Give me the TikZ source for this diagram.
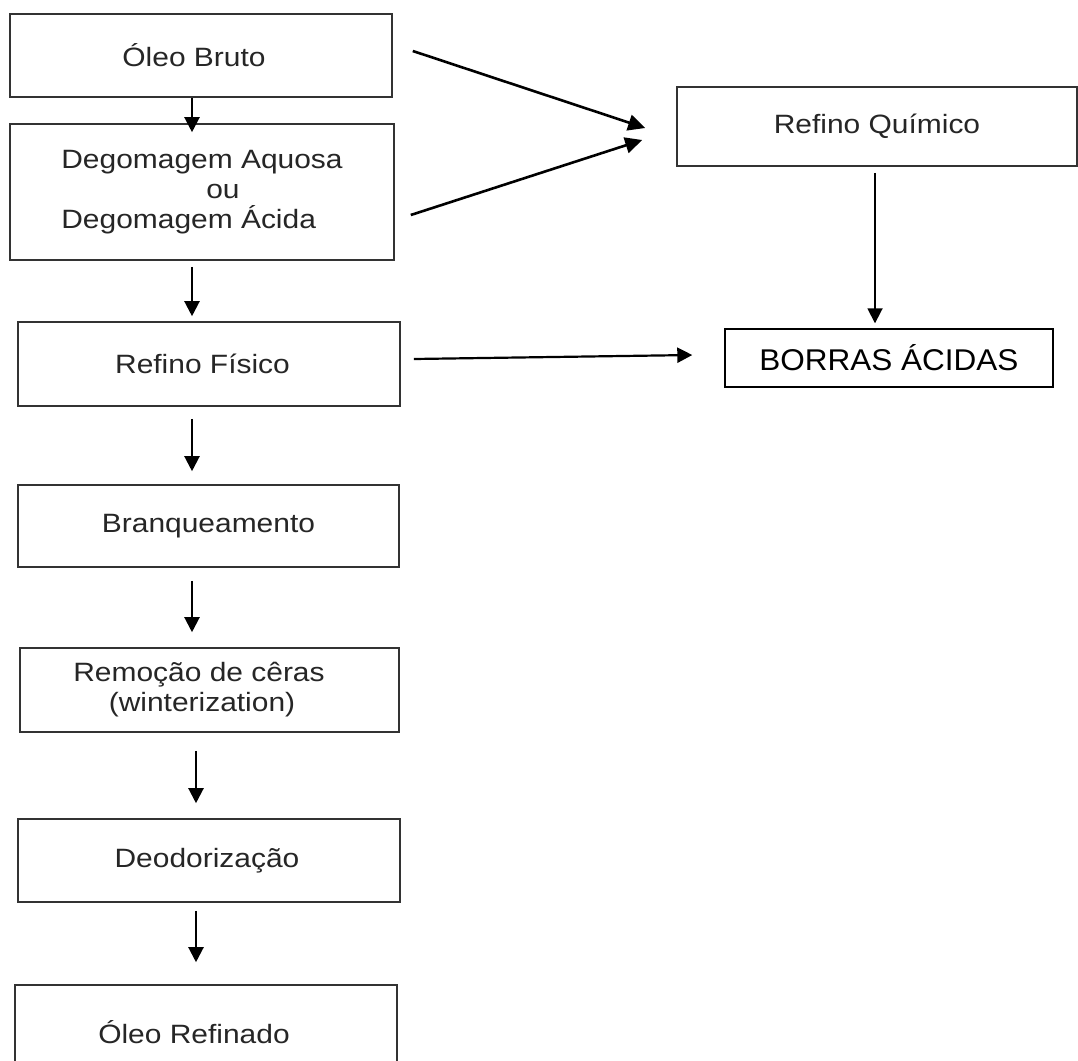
\documentclass[tikz,border=0pt]{standalone}
\usepackage{fontspec}
\setmainfont{Liberation Sans}[FakeStretch=1.13]
\newfontfamily\borrasfont{Liberation Sans}[FakeStretch=1.05]
\usetikzlibrary{arrows.meta}
\begin{document}
\begin{tikzpicture}[x=1pt,y=-1pt,
  box/.style={draw=black!80, line width=1.6pt, fill=white, inner sep=0pt,
    text=black!85, font=\fontsize{26.5}{30}\selectfont, align=center},
  arr/.style={draw=black, line width=2.2pt, -{Triangle[width=15pt,length=15pt]}},
  sarr/.style={draw=black, line width=2.6pt, -{Triangle[width=16pt,length=17pt]}}]
\useasboundingbox (0,0) rectangle (1078,1060);
\clip (0,0) rectangle (1078,1060);
\fill[white] (0,0) rectangle (1078,1060);

% left column
\node[box, minimum width=382pt, minimum height=83pt] (b1) at (201,55.5) {\hspace*{-14pt}Óleo Bruto};
\node[box, minimum width=384pt, minimum height=136pt, align=left] (b2) at (202,192)
  {Degomagem Aquosa\\\hspace*{145pt}ou\\Degomagem Ácida};
\node[box, minimum width=382pt, minimum height=84pt] (b3) at (209,364) {\hspace*{-13pt}Refino Físico};
\node[box, minimum width=381pt, minimum height=82pt] (b4) at (208.5,526) {Branqueamento};
\node[box, minimum width=379pt, minimum height=84pt] (b5) at (209.5,690)
  {\hspace*{-21pt}Remoção de cêras\\\hspace*{-15pt}(winterization)};
\node[box, minimum width=382pt, minimum height=83pt] (b6) at (209,860.5) {\hspace*{-4pt}Deodorização};
\node[box, minimum width=382pt, minimum height=94pt] (b7) at (206,1032) {\hspace*{-24pt}Óleo Refinado};

% right column
\node[box, minimum width=400pt, minimum height=79pt] (rq) at (877,126.5) {Refino Químico};
\node[box, draw=black, line width=1.4pt, text=black, font=\borrasfont\fontsize{30}{34}\selectfont,
  minimum width=328pt, minimum height=58pt] (ba) at (889,358) {BORRAS ÁCIDAS};

% vertical arrows
\draw[arr] ([xshift=-9pt]b1.south) -- ([xshift=-10pt,yshift=-9pt]b2.north);
\draw[arr] ([xshift=-10pt,yshift=-6pt]b2.south) -- ([xshift=-17pt,yshift=5pt]b3.north);
\draw[arr] ([xshift=-17pt,yshift=-12pt]b3.south) -- ([xshift=-16.5pt,yshift=13pt]b4.north);
\draw[arr] ([xshift=-16.5pt,yshift=-13pt]b4.south) -- ([xshift=-17.5pt,yshift=15pt]b5.north);
\draw[arr] ([xshift=-13.5pt,yshift=-18pt]b5.south) -- ([xshift=-13pt,yshift=15pt]b6.north);
\draw[arr] ([xshift=-13pt,yshift=-8pt]b6.south) -- ([xshift=-10pt,yshift=22pt]b7.north);

% side arrows
\draw[sarr] ([xshift=20pt,yshift=4.5pt]b1.east) -- ([xshift=-31pt,yshift=-1.5pt]rq.west);
\draw[sarr] ([xshift=16pt,yshift=-23pt]b2.east) -- ([xshift=-34pt,yshift=-13.5pt]rq.west);
\draw[arr] ([xshift=13pt,yshift=5pt]b3.east) -- ([xshift=-32pt,yshift=3pt]ba.west);
\draw[arr, line width=1.8pt] ([xshift=-2pt,yshift=-6pt]rq.south) -- ([xshift=-14pt,yshift=5pt]ba.north);
\end{tikzpicture}
\end{document}
